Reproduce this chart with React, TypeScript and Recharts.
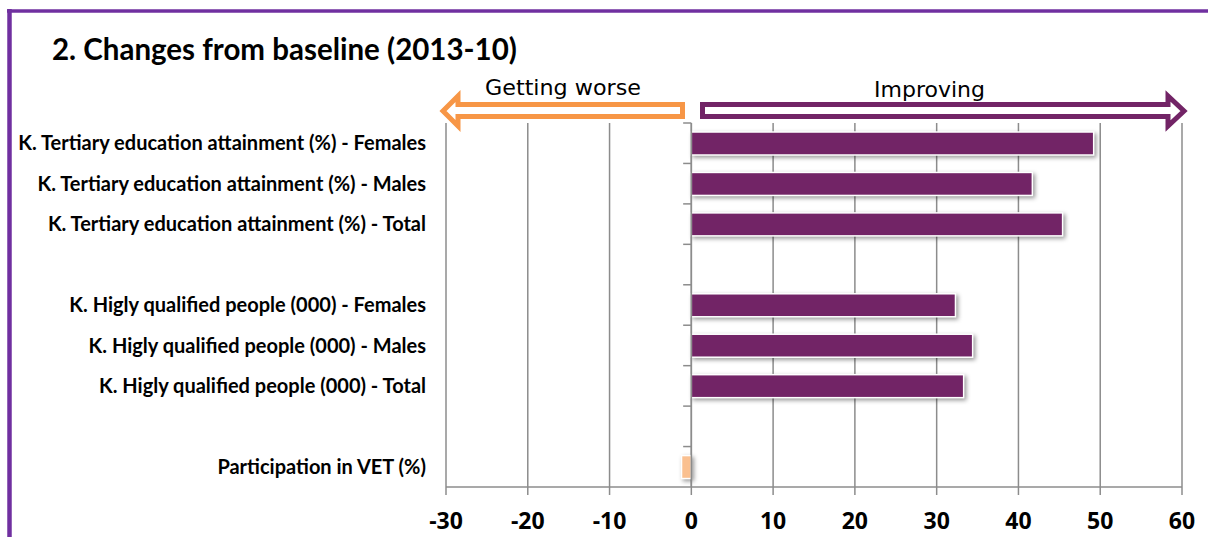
import { BarChart, Bar, XAxis, YAxis, CartesianGrid, ReferenceLine, ReferenceArea, Cell } from "recharts";

const categories = [
  "K. Tertiary education attainment (%) - Females",
  "K. Tertiary education attainment (%) - Males",
  "K. Tertiary education attainment (%) - Total",
  " ",
  "K. Higly qualified people (000) - Females",
  "K. Higly qualified people (000) - Males",
  "K. Higly qualified people (000) - Total",
  "  ",
  "Participation in VET (%)",
];
const changes = [49.2, 41.7, 45.4, null, 32.3, 34.4, 33.3, null, -1.2];
const barColors = ["#722466", "#722466", "#722466", "#722466", "#722466", "#722466", "#722466", "#722466", "#FAC090"];
const xTicks = [-30, -20, -10, 0, 10, 20, 30, 40, 50, 60];

const data = categories.map((name, i) => ({ name, change: changes[i] }));

const GRID = "#8c8c8c";
const FONT = "Lato, 'Open Sans', sans-serif";

const ShadowBar = (p: any) => {
  const { x, y, width, height, fill } = p;
  if (!width || !height) return null;
  const left = width < 0 ? x + width : x;
  return (
    <rect
      x={left}
      y={y}
      width={Math.abs(width)}
      height={height}
      fill={fill}
      stroke="#fff"
      strokeWidth={1.5}
      style={{ filter: "drop-shadow(2px 2px 2px rgba(0,0,0,0.4))" }}
    />
  );
};

// small tick at the top edge of each category band, left of the zero line
const BandTick = (p: any) => (
  <line x1={p.x} x2={p.x + p.width} y1={p.y} y2={p.y} stroke={GRID} strokeWidth={1.5} />
);

const ValueTick = (p: any) => (
  <text
    x={p.x}
    y={Math.round(p.y) + 28}
    textAnchor="middle"
    fill="#000"
    fontFamily="'Open Sans', Lato, sans-serif"
    fontWeight="bold"
    fontSize={23}
  >
    {p.payload.value}
  </text>
);

export default function App() {
  return (
    <div style={{ position: "absolute", left: 0, top: 0, width: 1208, height: 537, background: "#fff" }}>
      <BarChart
        width={1208}
        height={537}
        data={data}
        layout="vertical"
        margin={{ top: 123, right: 26, bottom: 0, left: 0 }}
        barSize={23}
      >
        <CartesianGrid horizontal={false} stroke={GRID} strokeWidth={1.5} />
        <XAxis
          type="number"
          domain={[-30, 60]}
          ticks={xTicks}
          height={50}
          stroke={GRID}
          strokeWidth={1.5}
          tickSize={8}
          tickMargin={6}
          tick={ValueTick}
        />
        <YAxis
          type="category"
          dataKey="name"
          width={446}
          axisLine={false}
          tickLine={false}
          tickSize={0}
          tickMargin={20}
          interval={0}
          tick={{ fill: "#000", fontSize: 20, fontWeight: 700, fontFamily: FONT }}
        />
        <ReferenceLine x={0} stroke={GRID} strokeWidth={1.5} />
        {categories.map((c) => (
          <ReferenceArea key={c} y1={c} y2={c} x1={-1} x2={0} shape={BandTick} ifOverflow="visible" />
        ))}
        <Bar dataKey="change" isAnimationActive={false} shape={ShadowBar}>
          {data.map((d, i) => (
            <Cell key={i} fill={barColors[i]} />
          ))}
        </Bar>
      </BarChart>
      <svg
        width={1208}
        height={537}
        style={{ position: "absolute", left: 0, top: 0, pointerEvents: "none" }}
      >
        <line x1={7} y1={11} x2={1208} y2={11} stroke="#7030A0" strokeWidth={3.5} />
        <line x1={9.5} y1={9} x2={9.5} y2={537} stroke="#7030A0" strokeWidth={4.5} />
        <text x={52} y={60} fontFamily={FONT} fontWeight={700} fontSize={29.5} fill="#000">
          2. Changes from baseline (2013-10)
        </text>
        <path
          d="M682.5,104.5 L458,104.5 L458,96 L443,111 L458,126 L458,116.5 L682.5,116.5 Z"
          fill="#fff"
          stroke="#F79646"
          strokeWidth={5}
        />
        <path
          d="M702.5,104.5 L1168,104.5 L1168,96 L1184,111 L1168,126 L1168,116.5 L702.5,116.5 Z"
          fill="#fff"
          stroke="#722466"
          strokeWidth={5}
        />
        <text x={485} y={95} fontFamily="'Comic Sans MS', 'DejaVu Sans', sans-serif" fontSize={21} textLength={156} lengthAdjust="spacingAndGlyphs" fill="#000">
          Getting worse
        </text>
        <text x={874} y={97} fontFamily="'Comic Sans MS', 'DejaVu Sans', sans-serif" fontSize={21} textLength={111} lengthAdjust="spacingAndGlyphs" fill="#000">
          Improving
        </text>
      </svg>
    </div>
  );
}
